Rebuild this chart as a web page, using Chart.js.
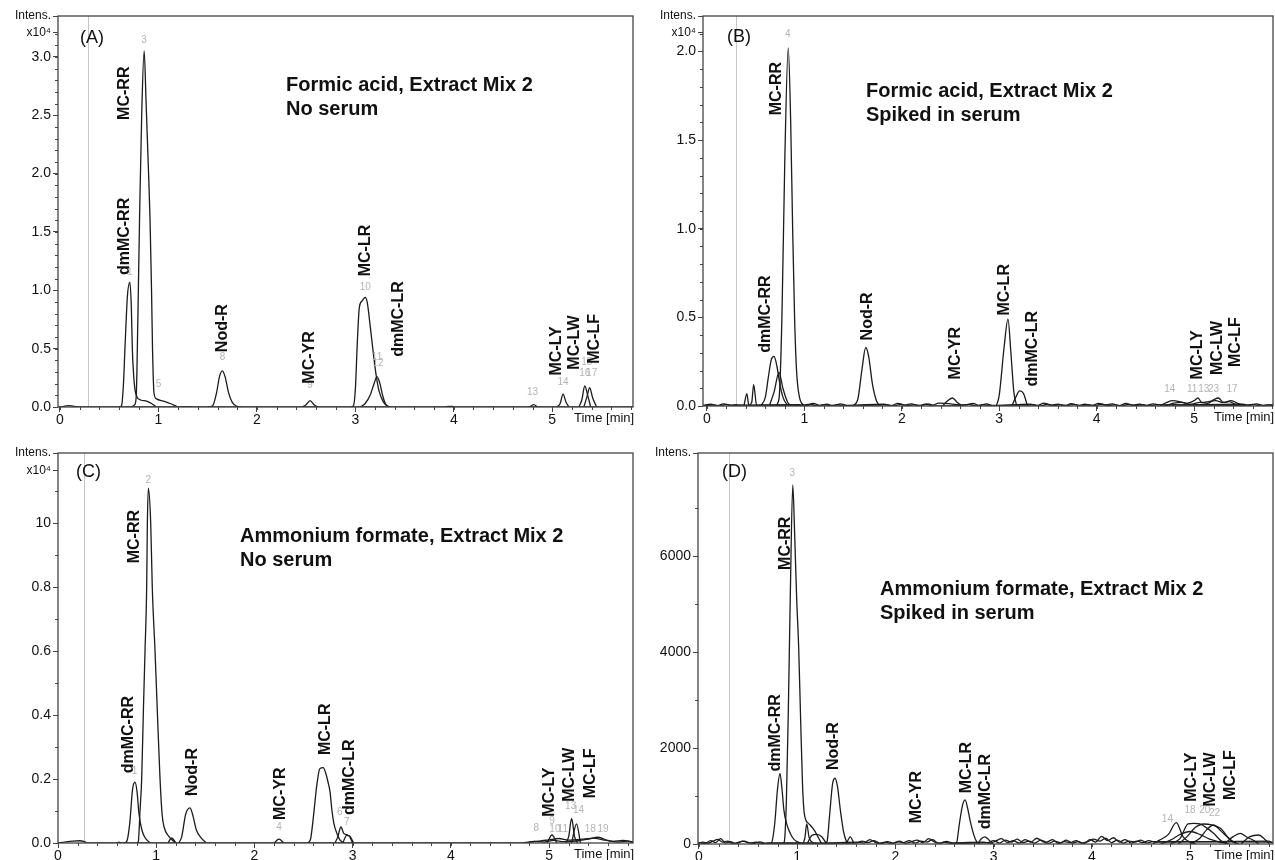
<!DOCTYPE html>
<html>
<head>
<meta charset="utf-8">
<script src="https://cdn.jsdelivr.net/npm/chart.js@4.4.0/dist/chart.umd.min.js"></script>
<style>
  body { margin: 0; background: #fff; width: 1275px; height: 860px; overflow: hidden; position: relative; }
  canvas { position: absolute; }
</style>
</head>
<body>
<canvas id="cA" width="640" height="430" style="left:0;top:0"></canvas>
<canvas id="cB" width="635" height="430" style="left:640px;top:0"></canvas>
<canvas id="cC" width="640" height="430" style="left:0;top:430px"></canvas>
<canvas id="cD" width="635" height="430" style="left:640px;top:430px"></canvas>
<script>
const FONT = '"Liberation Sans", Arial, sans-serif';
const xTicks = [0, 1, 2, 3, 4, 5];
const peakNames = ['MC-RR', 'dmMC-RR', 'Nod-R', 'MC-YR', 'MC-LR', 'dmMC-LR', 'MC-LY', 'MC-LW', 'MC-LF'];

// ---------- (A) formic acid, no serum  (x10^4) ----------
const aYTicks = [0, 0.5, 1, 1.5, 2, 2.5, 3, 3.205, 3.35];
const aYLabels = ['0.0', '0.5', '1.0', '1.5', '2.0', '2.5', '3.0', 'x10⁴', 'Intens.'];
const aBase = [[-0.02,0],[0.03,0.003],[0.08,0.012],[0.12,0.01],[0.17,0.002],[0.22,0],[1.2,0],[1.3,0.004],[1.35,0],[3.9,0],[3.95,0.006],[4.0,0.003],[4.05,0],[5.82,0]];
const aDmRR = [[0.6,0],[0.625,0.01],[0.645,0.2],[0.66,0.5],[0.685,0.95],[0.71,1.07],[0.725,0.85],[0.735,0.5],[0.755,0.2],[0.78,0.09],[0.82,0.06],[0.88,0.05],[0.93,0.03],[0.98,0]];
const aMcRR = [[0.72,0],[0.76,0.02],[0.775,0.1],[0.79,0.7],[0.81,1.7],[0.83,2.5],[0.855,3.05],[0.875,2.6],[0.9,2.0],[0.915,1.6],[0.93,1.0],[0.94,0.5],[0.955,0.12],[0.98,0.07],[1.05,0.05],[1.12,0.03],[1.2,0]];
const aNodR = [[1.5,0],[1.55,0.01],[1.59,0.12],[1.62,0.26],[1.65,0.31],[1.68,0.25],[1.71,0.13],[1.75,0.04],[1.8,0.005],[1.84,0]];
const aMcYR = [[2.46,0],[2.5,0.02],[2.54,0.055],[2.58,0.02],[2.62,0]];
const aMcLR = [[2.95,0],[2.98,0.01],[3.0,0.15],[3.02,0.55],[3.04,0.85],[3.07,0.91],[3.1,0.94],[3.12,0.9],[3.15,0.7],[3.18,0.48],[3.21,0.28],[3.24,0.14],[3.28,0.05],[3.32,0.01],[3.36,0]];
const aDmLR = [[3.05,0],[3.1,0.03],[3.15,0.1],[3.19,0.2],[3.22,0.26],[3.25,0.2],[3.28,0.09],[3.31,0.02],[3.35,0]];
const aP13 = [[4.77,0],[4.81,0.02],[4.85,0]];
const aMcLY = [[5.05,0],[5.08,0.03],[5.11,0.11],[5.14,0.04],[5.17,0]];
const aMcLW = [[5.27,0],[5.3,0.06],[5.33,0.18],[5.36,0.1],[5.39,0]];
const aMcLF = [[5.32,0],[5.35,0.08],[5.38,0.165],[5.41,0.08],[5.45,0]];
const aPeakAt = [[0.66,2.46],[0.66,1.13],[1.65,0.47],[2.54,0.2],[3.1,1.12],[3.44,0.43],[5.04,0.27],[5.23,0.32],[5.43,0.37]];
const aNumNames = ['1','3','5','8','9','10','11','12','13','14','15','16','17'];
const aNumAt = [[0.71,1.11],[0.854,3.1],[1.0,0.15],[1.65,0.38],[2.54,0.14],[3.1,0.98],[3.22,0.38],[3.23,0.33],[4.8,0.08],[5.11,0.17],[5.35,0.34],[5.33,0.25],[5.4,0.25]];

// ---------- (B) formic acid, spiked in serum  (x10^4) ----------
const bYTicks = [0, 0.5, 1, 1.5, 2, 2.107, 2.2];
const bYLabels = ['0.0', '0.5', '1.0', '1.5', '2.0', 'x10⁴', 'Intens.'];
const bNoise1 = [[-0.04,0.004],[0.04,0.01],[0.1,0.002],[0.17,0.012],[0.24,0.004],[0.3,0.008],[0.36,0.0],[0.55,0.006],[0.95,0.008],[1.02,0.002],[1.09,0.014],[1.16,0.004],[1.23,0.01],[1.3,0.0],[1.37,0.012],[1.44,0.004],[1.82,0.01],[1.89,0.002],[1.96,0.015],[2.03,0.005],[2.1,0.012],[2.17,0.0],[2.24,0.01],[2.31,0.004],[2.38,0.016],[2.66,0.006],[2.73,0.014],[2.8,0.003],[2.87,0.012],[2.94,0.002],[3.32,0.01],[3.39,0.002],[3.46,0.016],[3.53,0.005],[3.6,0.011],[3.67,0.0],[3.74,0.013],[3.81,0.004],[3.88,0.01],[3.95,0.002],[4.02,0.015],[4.09,0.006],[4.16,0.012],[4.23,0.002],[4.3,0.014],[4.37,0.005],[4.44,0.01],[4.51,0.003],[4.58,0.012],[4.65,0.006],[5.5,0.01],[5.57,0.003],[5.64,0.012],[5.71,0.004],[5.81,0.008]];
const bNoise2 = [[-0.04,0.0],[0.07,0.006],[0.14,0.0],[0.2,0.009],[0.28,0.002],[0.34,0.006],[0.6,0.003],[0.98,0.004],[1.06,0.01],[1.13,0.0],[1.2,0.008],[1.27,0.003],[1.34,0.007],[1.41,0.0],[1.85,0.006],[1.92,0.0],[1.99,0.009],[2.06,0.002],[2.13,0.008],[2.2,0.003],[2.27,0.012],[2.34,0.0],[2.62,0.004],[2.69,0.009],[2.76,0.0],[2.83,0.008],[2.9,0.003],[3.35,0.007],[3.42,0.0],[3.49,0.01],[3.56,0.002],[3.63,0.008],[3.7,0.003],[3.77,0.009],[3.84,0.0],[3.91,0.007],[3.98,0.003],[4.05,0.01],[4.12,0.002],[4.19,0.008],[4.26,0.0],[4.33,0.009],[4.4,0.002],[4.47,0.007],[4.54,0.0],[4.61,0.006],[5.52,0.004],[5.6,0.009],[5.68,0.0],[5.76,0.006],[5.81,0.002]];
const bSpikes = [[0.38,0],[0.41,0.07],[0.43,0.005],[0.46,0.02],[0.48,0.12],[0.51,0.005],[0.55,0]];
const bDmRR = [[0.55,0],[0.6,0.05],[0.63,0.16],[0.66,0.26],[0.69,0.28],[0.72,0.22],[0.75,0.12],[0.78,0.05],[0.82,0.01],[0.86,0]];
const bHump = [[0.64,0],[0.69,0.08],[0.74,0.19],[0.78,0.1],[0.83,0.02],[0.88,0]];
const bMcRR = [[0.7,0],[0.74,0.04],[0.77,0.5],[0.8,1.4],[0.835,2.02],[0.86,1.6],[0.88,1.0],[0.9,0.5],[0.92,0.2],[0.95,0.05],[1.0,0]];
const bNodR = [[1.5,0],[1.55,0.04],[1.59,0.2],[1.63,0.33],[1.66,0.28],[1.7,0.12],[1.74,0.03],[1.78,0]];
const bMcYR = [[2.42,0],[2.47,0.03],[2.52,0.045],[2.57,0.02],[2.62,0]];
const bMcLR = [[2.97,0],[3.0,0.06],[3.05,0.33],[3.09,0.49],[3.12,0.3],[3.15,0.08],[3.18,0]];
const bDmLR = [[3.13,0],[3.17,0.05],[3.21,0.085],[3.25,0.07],[3.29,0]];
const bClust1 = [[4.65,0],[4.72,0.02],[4.78,0.03],[4.85,0.025],[4.92,0.015],[5.0,0.03],[5.04,0.045],[5.08,0.02],[5.15,0.025],[5.22,0.03],[5.3,0.02],[5.38,0.03],[5.45,0.015],[5.52,0]];
const bClust2 = [[4.7,0],[4.78,0.015],[4.88,0.02],[4.96,0.01],[5.06,0.02],[5.14,0.015],[5.2,0.035],[5.25,0.045],[5.3,0.02],[5.36,0.025],[5.42,0.01],[5.5,0]];
const bPeakAt = [[0.72,1.64],[0.6,0.3],[1.65,0.37],[2.55,0.15],[3.06,0.51],[3.34,0.11],[5.04,0.15],[5.24,0.175],[5.43,0.22]];
const bNumNames = ['4','14','11','13','23','17'];
const bNumAt = [[0.83,2.07],[4.75,0.065],[4.98,0.065],[5.1,0.065],[5.2,0.065],[5.39,0.065]];

// ---------- (C) ammonium formate, no serum  (x10^4) ----------
const cYTicks = [0, 0.2, 0.4, 0.6, 0.8, 1.0, 1.165, 1.22];
const cYLabels = ['0.0', '0.2', '0.4', '0.6', '0.8', '10', 'x10⁴', 'Intens.'];
const cBase = [[0,0],[0.05,0.002],[0.15,0.006],[0.22,0.007],[0.27,0.004],[0.3,0],[0.6,0],[0.62,0.003],[0.65,0],[4.7,0],[4.8,0.003],[4.9,0.006],[5.0,0.01],[5.1,0.014],[5.2,0.009],[5.35,0.012],[5.45,0.015],[5.55,0.01],[5.65,0.005],[5.75,0.008],[5.86,0.003]];
const cNoise = [[4.75,0],[4.85,0.005],[4.95,0.003],[5.05,0.008],[5.15,0.004],[5.3,0.007],[5.4,0.012],[5.5,0.018],[5.6,0.008],[5.7,0.003],[5.8,0.006],[5.86,0]];
const cDmRR = [[0.67,0],[0.7,0.005],[0.73,0.06],[0.76,0.17],[0.784,0.19],[0.805,0.16],[0.825,0.09],[0.855,0.04],[0.89,0.015],[0.94,0]];
const cMcRR = [[0.8,0],[0.818,0.005],[0.835,0.1],[0.852,0.2],[0.87,0.42],[0.886,0.6],[0.903,0.8],[0.91,1.0],[0.92,1.11],[0.944,1.0],[0.96,0.8],[0.988,0.6],[1.013,0.4],[1.039,0.2],[1.06,0.09],[1.08,0.05],[1.13,0.02],[1.2,0]];
const cP118 = [[1.12,0],[1.158,0.016],[1.2,0]];
const cNodR = [[1.23,0],[1.26,0.02],[1.3,0.09],[1.344,0.11],[1.37,0.09],[1.41,0.04],[1.46,0.015],[1.51,0]];
const cMcYR = [[2.2,0],[2.25,0.012],[2.3,0]];
const cMcLR = [[2.54,0],[2.57,0.01],[2.6,0.08],[2.635,0.18],[2.665,0.232],[2.7,0.236],[2.725,0.22],[2.75,0.19],[2.77,0.16],[2.79,0.1],[2.81,0.06],[2.84,0.03],[2.87,0.01],[2.91,0]];
const cDmLR = [[2.82,0],[2.85,0.02],[2.88,0.05],[2.91,0.03],[2.94,0.026],[2.97,0.02],[3.0,0]];
const cP7 = [[2.9,0],[2.94,0.024],[2.97,0.022],[3.01,0]];
const cP9 = [[4.98,0],[5.03,0.025],[5.08,0]];
const cP13 = [[5.17,0],[5.2,0.02],[5.23,0.077],[5.26,0.02],[5.29,0]];
const cP14 = [[5.23,0],[5.28,0.06],[5.32,0]];
const cPeakAt = [[0.784,0.875],[0.716,0.218],[1.372,0.147],[2.27,0.072],[2.72,0.275],[2.97,0.0875],[5.01,0.082],[5.21,0.129],[5.42,0.14]];
const cNumNames = ['1','2','3','4','5','6','7','8','9','10','11','13','14','18','19'];
const cNumAt = [[0.78,0.21],[0.92,1.12],[1.34,0.14],[2.25,0.034],[2.69,0.27],[2.87,0.08],[2.94,0.05],[4.87,0.03],[5.03,0.053],[5.06,0.028],[5.14,0.028],[5.22,0.1],[5.3,0.087],[5.42,0.028],[5.55,0.028]];

// ---------- (D) ammonium formate, spiked in serum ----------
const dYTicks = [0, 2000, 4000, 6000, 8146];
const dYLabels = ['0', '2000', '4000', '6000', 'Intens.'];
const dNoise1 = [[-0.01,10],[0.04,40],[0.09,15],[0.14,55],[0.19,95],[0.24,40],[0.29,60],[0.34,10],[0.4,35],[0.46,60],[0.52,20],[0.58,40],[0.64,5],[0.7,25],[1.25,20],[1.62,40],[1.68,20],[1.74,90],[1.8,30],[1.86,10],[1.92,50],[1.98,20],[2.04,60],[2.1,15],[2.16,45],[2.22,80],[2.28,30],[2.34,110],[2.4,40],[2.46,20],[2.52,55],[2.58,25],[2.9,40],[2.96,15],[3.02,60],[3.08,110],[3.14,30],[3.2,70],[3.26,20],[3.32,90],[3.38,40],[3.44,120],[3.5,50],[3.56,15],[3.62,60],[3.68,25],[3.74,80],[3.8,20],[3.86,50],[3.92,10],[3.98,90],[4.04,40],[4.1,160],[4.16,70],[4.22,130],[4.28,40],[4.34,90],[4.4,20],[4.46,60],[4.52,30],[4.58,70],[4.64,40],[5.8,60],[5.84,20]];
const dNoise2 = [[-0.01,30],[0.06,10],[0.12,70],[0.17,30],[0.22,110],[0.27,20],[0.32,50],[0.38,0],[0.44,60],[0.5,30],[0.56,10],[0.62,45],[0.68,15],[1.6,20],[1.66,60],[1.72,30],[1.78,70],[1.84,20],[1.9,40],[1.96,0],[2.02,45],[2.08,30],[2.14,70],[2.2,20],[2.26,60],[2.32,40],[2.38,90],[2.44,10],[2.5,40],[2.56,15],[2.94,30],[3.0,70],[3.06,20],[3.12,80],[3.18,40],[3.24,100],[3.3,30],[3.36,60],[3.42,20],[3.48,80],[3.54,40],[3.6,90],[3.66,10],[3.72,50],[3.78,30],[3.84,70],[3.9,20],[3.96,50],[4.02,100],[4.08,60],[4.14,120],[4.2,30],[4.26,80],[4.32,20],[4.38,60],[4.44,40],[4.5,80],[4.56,20],[4.62,50],[5.84,40]];
const dDmRR = [[0.71,0],[0.74,30],[0.77,400],[0.8,1150],[0.825,1470],[0.845,1150],[0.865,700],[0.893,420],[0.93,220],[0.97,90],[1.01,40],[1.05,0]];
const dMcRR = [[0.85,0],[0.868,40],[0.89,900],[0.91,2800],[0.93,5200],[0.955,7480],[0.975,6400],[0.995,5100],[1.015,4100],[1.035,2600],[1.055,1200],[1.075,600],[1.12,420],[1.17,300],[1.25,0]];
const dP108 = [[1.06,0],[1.08,150],[1.097,420],[1.12,150],[1.14,60],[1.2,0]];
const dHump = [[1.1,0],[1.15,180],[1.2,200],[1.25,150],[1.3,0]];
const dNodR = [[1.28,0],[1.305,60],[1.33,600],[1.36,1250],[1.385,1370],[1.41,1200],[1.44,700],[1.47,280],[1.5,60],[1.53,0]];
const dP154 = [[1.5,0],[1.54,150],[1.58,0]];
const dMcLR = [[2.6,0],[2.625,40],[2.65,400],[2.685,820],[2.71,920],[2.735,750],[2.765,450],[2.8,180],[2.83,40],[2.86,0]];
const dDmLR = [[2.84,0],[2.87,100],[2.91,150],[2.95,90],[2.99,0]];
const dMcLY = [[4.62,0],[4.69,80],[4.78,200],[4.86,444],[4.93,150],[5.0,40],[5.06,0]];
const dT2 = [[4.8,0],[4.9,118],[4.98,417],[5.04,430],[5.1,417],[5.18,320],[5.24,222],[5.32,60],[5.38,0]];
const dMcLW = [[4.88,0],[4.97,153],[5.05,340],[5.14,417],[5.22,400],[5.31,326],[5.41,83],[5.48,0]];
const dMcLF = [[5.0,0],[5.1,118],[5.17,300],[5.24,396],[5.3,300],[5.34,222],[5.44,48],[5.5,0]];
const dT5 = [[5.35,0],[5.44,153],[5.51,222],[5.58,140],[5.64,83],[5.7,0]];
const dT6 = [[5.52,0],[5.61,153],[5.7,187],[5.76,100],[5.81,0]];
const dT7 = [[4.7,0],[4.8,80],[4.9,200],[5.0,260],[5.1,200],[5.2,100],[5.3,40],[5.4,0]];
const dPeakAt = [[0.886,5710],[0.784,1510],[1.375,1540],[2.22,430],[2.726,1055],[2.92,305],[5.017,880],[5.21,780],[5.41,915]];
const dNumNames = ['3','14','18','20','22'];
const dNumAt = [[0.95,7625],[4.77,420],[5.0,600],[5.15,600],[5.25,540]];

function makeDeco(p) {
  return {
    id: 'deco',
    beforeDatasetsDraw(chart) {
      const { ctx, chartArea: ca, scales: { x } } = chart;
      const gx = Math.round(x.getPixelForValue(p.marker)) + 0.5;
      ctx.save();
      ctx.strokeStyle = '#c6c6c6';
      ctx.lineWidth = 1;
      ctx.beginPath(); ctx.moveTo(gx, ca.top); ctx.lineTo(gx, ca.bottom); ctx.stroke();
      ctx.restore();
    },
    afterDraw(chart) {
      const { ctx, chartArea: ca, scales: { x, y } } = chart;
      ctx.save();
      // frame
      ctx.strokeStyle = '#444';
      ctx.lineWidth = 1.3;
      ctx.strokeRect(ca.left, ca.top, ca.right - ca.left, ca.bottom - ca.top);
      // minor ticks
      ctx.lineWidth = 1;
      ctx.beginPath();
      for (let i = 0; ; i++) {
        const v = Math.ceil(x.min / p.xMinor) * p.xMinor + i * p.xMinor;
        if (v > x.max) break;
        const px = Math.round(x.getPixelForValue(v)) + 0.5;
        ctx.moveTo(px, ca.bottom); ctx.lineTo(px, ca.bottom + 3);
      }
      for (let i = 0; ; i++) {
        const v = i * p.yMinor;
        if (v > p.yMinorTop) break;
        const py = Math.round(y.getPixelForValue(v)) + 0.5;
        ctx.moveTo(ca.left - 3, py); ctx.lineTo(ca.left, py);
      }
      ctx.stroke();
      // small grey compound numbers
      ctx.fillStyle = '#b4b4b4';
      ctx.font = '10px ' + FONT;
      ctx.textAlign = 'center';
      ctx.textBaseline = 'bottom';
      p.numNames.forEach((n, i) => {
        ctx.fillText(n, x.getPixelForValue(p.numAt[i][0]), y.getPixelForValue(p.numAt[i][1]));
      });
      // rotated compound names
      ctx.fillStyle = '#111';
      ctx.font = 'bold 16px ' + FONT;
      ctx.textAlign = 'left';
      ctx.textBaseline = 'middle';
      peakNames.forEach((n, i) => {
        ctx.save();
        ctx.translate(x.getPixelForValue(p.peakAt[i][0]), y.getPixelForValue(p.peakAt[i][1]));
        ctx.rotate(-Math.PI / 2);
        ctx.fillText(n, 0, 0);
        ctx.restore();
      });
      // panel letter
      ctx.font = '18px ' + FONT;
      ctx.fillText(p.letter, ca.left + p.letterAt[0], ca.top + p.letterAt[1]);
      // title
      ctx.font = 'bold 20px ' + FONT;
      ctx.textBaseline = 'alphabetic';
      p.title.forEach((t, i) => ctx.fillText(t, ca.left + p.titleAt[0], ca.top + p.titleAt[1] + i * 24));
      // axis title
      ctx.font = '13px ' + FONT;
      ctx.textBaseline = 'middle';
      ctx.fillText('Time [min]', ca.right - 59, ca.bottom + 11);
      ctx.restore();
    }
  };
}

function makePanel(id, p) {
  const isWord = v => /[a-z]/i.test(p.yLabels[p.yTicks.indexOf(v)] || '');
  return new Chart(document.getElementById(id), {
    type: 'line',
    data: {
      datasets: p.traces.map(tr => ({
        data: tr.map(pt => ({ x: pt[0], y: pt[1] })),
        borderColor: '#1c1c1c',
        borderWidth: 1.3,
        pointRadius: 0,
        fill: false,
        cubicInterpolationMode: 'monotone'
      }))
    },
    options: {
      responsive: false,
      animation: false,
      events: [],
      layout: { padding: { left: 0, top: p.top, right: p.right, bottom: 0 } },
      plugins: { legend: { display: false }, tooltip: { enabled: false } },
      scales: {
        x: {
          type: 'linear', min: p.xMin, max: p.xMax,
          afterBuildTicks: s => { s.ticks = xTicks.map(v => ({ value: v })); },
          afterFit: s => { s.height = p.xh; },
          ticks: { autoSkip: false, maxRotation: 0, padding: 0, color: '#111', font: { family: FONT, size: 14 }, callback: v => String(v) },
          grid: { drawOnChartArea: false, tickLength: 5, tickColor: '#444' },
          border: { display: false }
        },
        y: {
          type: 'linear', min: 0, max: p.yTicks[p.yTicks.length - 1],
          afterBuildTicks: s => { s.ticks = p.yTicks.map(v => ({ value: v })); },
          afterFit: s => { s.width = p.yw; },
          ticks: {
            autoSkip: false, padding: 2, color: '#111',
            font: ctx => ({ family: FONT, size: ctx.tick && isWord(ctx.tick.value) ? 12 : 14 }),
            callback: v => p.yLabels[p.yTicks.indexOf(v)]
          },
          grid: { drawOnChartArea: false, tickLength: 5, tickColor: '#444' },
          border: { display: false }
        }
      }
    },
    plugins: [makeDeco(p)]
  });
}

makePanel('cA', {
  traces: [aBase, aDmRR, aMcRR, aNodR, aMcYR, aMcLR, aDmLR, aP13, aMcLY, aMcLW, aMcLF],
  yTicks: aYTicks, yLabels: aYLabels, yMinor: 0.1, yMinorTop: 3.25,
  xMin: -0.02, xMax: 5.82, xMinor: 0.2, marker: 0.285,
  top: 16, right: 7, yw: 58, xh: 23,
  peakAt: aPeakAt, numNames: aNumNames, numAt: aNumAt,
  letter: '(A)', letterAt: [22, 22],
  title: ['Formic acid, Extract Mix 2', 'No serum'], titleAt: [228, 75]
});
makePanel('cB', {
  traces: [bNoise1, bNoise2, bSpikes, bDmRR, bHump, bMcRR, bNodR, bMcYR, bMcLR, bDmLR, bClust1, bClust2],
  yTicks: bYTicks, yLabels: bYLabels, yMinor: 0.1, yMinorTop: 2.15,
  xMin: -0.04, xMax: 5.81, xMinor: 0.2, marker: 0.3,
  top: 16, right: 2, yw: 63, xh: 24,
  peakAt: bPeakAt, numNames: bNumNames, numAt: bNumAt,
  letter: '(B)', letterAt: [24, 21],
  title: ['Formic acid, Extract Mix 2', 'Spiked in serum'], titleAt: [163, 81]
});
makePanel('cC', {
  traces: [cBase, cNoise, cDmRR, cMcRR, cP118, cNodR, cMcYR, cMcLR, cDmLR, cP7, cP9, cP13, cP14],
  yTicks: cYTicks, yLabels: cYLabels, yMinor: 0.1, yMinorTop: 1.15,
  xMin: 0, xMax: 5.855, xMinor: 0.2, marker: 0.265,
  top: 23, right: 7, yw: 58, xh: 17,
  peakAt: cPeakAt, numNames: cNumNames, numAt: cNumAt,
  letter: '(C)', letterAt: [18, 19],
  title: ['Ammonium formate, Extract Mix 2', 'No serum'], titleAt: [182, 89]
});
makePanel('cD', {
  traces: [dNoise1, dNoise2, dDmRR, dMcRR, dP108, dHump, dNodR, dP154, dMcLR, dDmLR, dT7, dMcLY, dT2, dMcLW, dMcLF, dT5, dT6],
  yTicks: dYTicks, yLabels: dYLabels, yMinor: 1000, yMinorTop: 7500,
  xMin: -0.01, xMax: 5.845, xMinor: 0.2, marker: 0.305,
  top: 23, right: 2, yw: 58, xh: 16,
  peakAt: dPeakAt, numNames: dNumNames, numAt: dNumAt,
  letter: '(D)', letterAt: [24, 19],
  title: ['Ammonium formate, Extract Mix 2', 'Spiked in serum'], titleAt: [182, 142]
});
</script>
</body>
</html>
